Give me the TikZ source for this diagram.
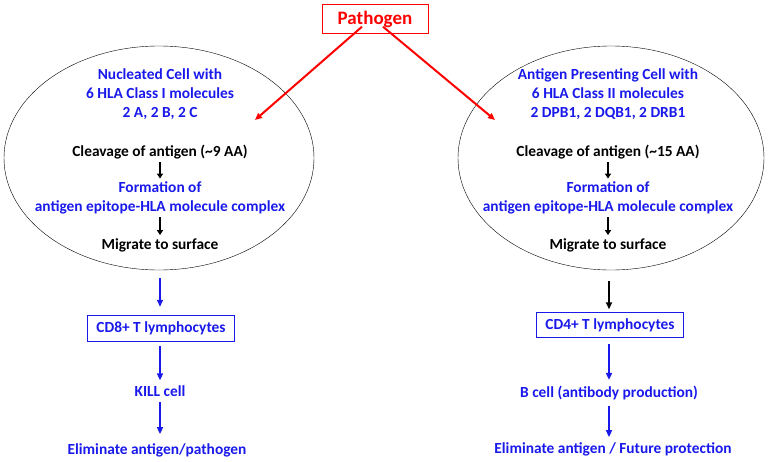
\documentclass[tikz,border=0pt]{standalone}
\usepackage{fontspec}
\setmainfont{Carlito}
\usetikzlibrary{arrows.meta, positioning, shapes.geometric}
\definecolor{hlablue}{RGB}{25,25,235}

\begin{document}
\begin{tikzpicture}[
x=1pt, y=-1pt,
font=\fontsize{15.4}{19}\selectfont\bfseries,
cell/.style={draw, ellipse, thin, inner sep=0pt},
txt/.style={inner sep=0pt, align=center},
btxt/.style={txt, text=hlablue},
tbox/.style={draw=hlablue, thin, text=hlablue, minimum width=147pt, minimum height=26pt, inner sep=0pt},
redarrow/.style={-{Triangle[length=7pt, width=6pt]}, red, line width=2pt},
bluearrow/.style={-{Triangle[length=7pt, width=6pt]}, hlablue, line width=1.8pt},
blackarrow/.style={-{Triangle[length=7pt, width=6pt]}, line width=1.8pt},
smallarrow/.style={-{Triangle[length=5pt, width=6pt]}, line width=1.4pt, shorten <=3pt, shorten >=3pt}
]
\useasboundingbox (0,0) rectangle (769,461);

\node[draw=red, thin, text=red, minimum width=106pt, minimum height=29pt, inner sep=0pt, font=\fontsize{19}{22}\selectfont\bfseries] (pathogen) at (375,19) {Pathogen};

% left: class I
\node[cell, minimum width=310pt, minimum height=224pt] (nucleated) at (159,158) {};
\node[btxt] (nuctitle) at (160,94) {Nucleated Cell with\\6 HLA Class I molecules\\2 A, 2 B, 2 C};
\node[txt] (cleaveL) at (160,152) {Cleavage of antigen (\textasciitilde9 AA)};
\node[btxt] (formL) at (160,198) {Formation of\\antigen epitope-HLA molecule complex};
\node[txt] (migrateL) at (160,245) {Migrate to surface};
\node[tbox] (cdeight) at (161,328) {CD8+ T lymphocytes};
\node[btxt] (kill) at (160,391) {KILL cell};
\node[btxt] (elimL) at (157,450) {Eliminate antigen/pathogen};

% right: class II
\node[cell, minimum width=306pt, minimum height=224pt] (apc) at (611,158) {};
\node[btxt] (apctitle) at (608,94) {Antigen Presenting Cell with\\6 HLA Class II molecules\\2 DPB1, 2 DQB1, 2 DRB1};
\node[txt] (cleaveR) at (608,152) {Cleavage of antigen (\textasciitilde15 AA)};
\node[btxt] (formR) at (608,198) {Formation of\\antigen epitope-HLA molecule complex};
\node[txt] (migrateR) at (608,245) {Migrate to surface};
\node[tbox, minimum height=25pt] (cdfour) at (610,325) {CD4+ T lymphocytes};
\node[btxt] (bcell) at (609,393) {B cell (antibody production)};
\node[btxt] (elimR) at (613,449) {Eliminate antigen / Future protection};

\coordinate (hitL) at (255,120);
\coordinate (hitR) at (495,120);

\draw[redarrow] ([xshift=-13pt, yshift=7pt]pathogen.south) -- (hitL);
\draw[redarrow] ([xshift=8pt, yshift=7pt]pathogen.south) -- (hitR);

\draw[smallarrow] (cleaveL) -- (formL);
\draw[smallarrow] (formL) -- (migrateL);
\draw[smallarrow] (cleaveR) -- (formR);
\draw[smallarrow] (formR) -- (migrateR);

\draw[bluearrow, shorten <=8pt, shorten >=8pt] (nucleated.south -| kill.north) -- (kill |- cdeight.north);
\draw[bluearrow, shorten <=5pt, shorten >=5pt] (kill |- cdeight.south) -- (kill.north);
\draw[bluearrow, shorten <=5pt, shorten >=9pt] (kill) -- (kill |- elimL.north);
\draw[blackarrow, shorten <=11pt, shorten >=3pt] (apc.south -| bcell.north) -- (bcell |- cdfour.north);
\draw[bluearrow, shorten <=6pt, shorten >=6pt] (bcell |- cdfour.south) -- (bcell.north);
\draw[bluearrow, shorten <=6pt, shorten >=5pt] (bcell) -- (bcell |- elimR.north);
\end{tikzpicture}
\end{document}
